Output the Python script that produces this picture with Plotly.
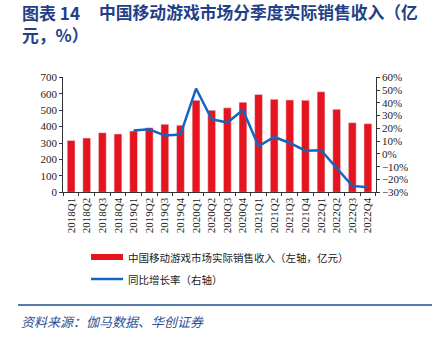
import plotly.graph_objects as go

quarters = ["2018Q1","2018Q2","2018Q3","2018Q4","2019Q1","2019Q2","2019Q3","2019Q4",
            "2020Q1","2020Q2","2020Q3","2020Q4","2021Q1","2021Q2","2021Q3","2021Q4",
            "2022Q1","2022Q2","2022Q3","2022Q4"]
revenue = [316, 330, 363, 355, 373, 393, 414, 408,
           560, 499, 514, 548, 596, 566, 562, 560,
           612, 505, 424, 418]
yoy = [None, None, None, None, 0.183, 0.193, 0.144, 0.152,
       0.512, 0.272, 0.246, 0.344, 0.060, 0.133, 0.086, 0.026,
       0.029, -0.114, -0.250, -0.260]

W, H = 439, 337
def px(x): return x / W
def py(y): return 1 - y / H

RED = "#E6141E"
BLUE = "#1565C0"
NAVY = "#233F87"
serif = "Liberation Serif"
cjk = "Noto Sans CJK SC"

fig = go.Figure()
fig.add_trace(go.Bar(x=quarters, y=revenue, marker_color=RED, width=0.5,
                     name="中国移动游戏市场实际销售收入（左轴，亿元）"))
fig.add_trace(go.Scatter(x=quarters, y=yoy, mode="lines", yaxis="y2",
                         line=dict(color=BLUE, width=2.5),
                         name="同比增长率（右轴）"))

axis_font = dict(family=serif, size=11, color="#222")
fig.update_layout(
    width=W, height=H, margin=dict(l=0, r=0, t=0, b=0),
    paper_bgcolor="white", plot_bgcolor="white", showlegend=False,
    xaxis=dict(domain=[px(63.3), px(375.7)], tickangle=-90, tickfont=axis_font,
               showline=True, linecolor="#333", linewidth=1, ticks="outside",
               tickson="boundaries", ticklen=3, tickcolor="#333", automargin=False,
               showgrid=False),
    yaxis=dict(domain=[py(192.3), py(77.3)], range=[0, 700], dtick=100,
               tickfont=axis_font, showline=True, linecolor="#333", linewidth=1,
               ticks="outside", ticklen=3, tickcolor="#333", showgrid=False,
               zeroline=False, automargin=False),
    yaxis2=dict(overlaying="y", side="right", range=[-0.3, 0.6], dtick=0.1,
                tickformat=".0%", tickfont=axis_font, showline=True,
                linecolor="#333", linewidth=1, ticks="outside", ticklen=3,
                tickcolor="#333", showgrid=False, zeroline=False, automargin=False),
)

ann = []
ann.append(dict(text="<b>图表 14</b>", x=px(20), y=py(12), xanchor="left", yanchor="middle",
                font=dict(family=cjk, size=17, color=NAVY)))
ann.append(dict(text="<b>中国移动游戏市场分季度实际销售收入（亿</b>", x=px(97), y=py(12),
                xanchor="left", yanchor="middle", font=dict(family=cjk, size=16.8, color=NAVY)))
ann.append(dict(text="<b>元，%）</b>", x=px(20), y=py(35), xanchor="left", yanchor="middle",
                font=dict(family=cjk, size=16.8, color=NAVY)))
ann.append(dict(text="中国移动游戏市场实际销售收入（左轴，亿元）", x=px(126), y=py(257),
                xanchor="left", yanchor="middle", font=dict(family=cjk, size=10.5, color="#222")))
ann.append(dict(text="同比增长率（右轴）", x=px(126), y=py(279),
                xanchor="left", yanchor="middle", font=dict(family=cjk, size=10.5, color="#222")))
ann.append(dict(text="<i>资料来源：伽马数据、华创证券</i>", x=px(19), y=py(321),
                xanchor="left", yanchor="middle", font=dict(family=cjk, size=13, color="#2F4F8F")))
for a in ann:
    a.update(xref="paper", yref="paper", showarrow=False)
fig.update_layout(annotations=ann)

fig.update_layout(shapes=[
    dict(type="rect", xref="paper", yref="paper", x0=px(91), x1=px(123), y0=py(260), y1=py(254),
         fillcolor=RED, line=dict(width=0)),
    dict(type="line", xref="paper", yref="paper", x0=px(91), x1=px(123), y0=py(279), y1=py(279),
         line=dict(color=BLUE, width=2.5)),
    dict(type="line", xref="paper", yref="paper", x0=px(18), x1=px(432), y0=py(305), y1=py(305),
         line=dict(color="#1F4E8C", width=1.5)),
])

fig.write_html("out.html")
